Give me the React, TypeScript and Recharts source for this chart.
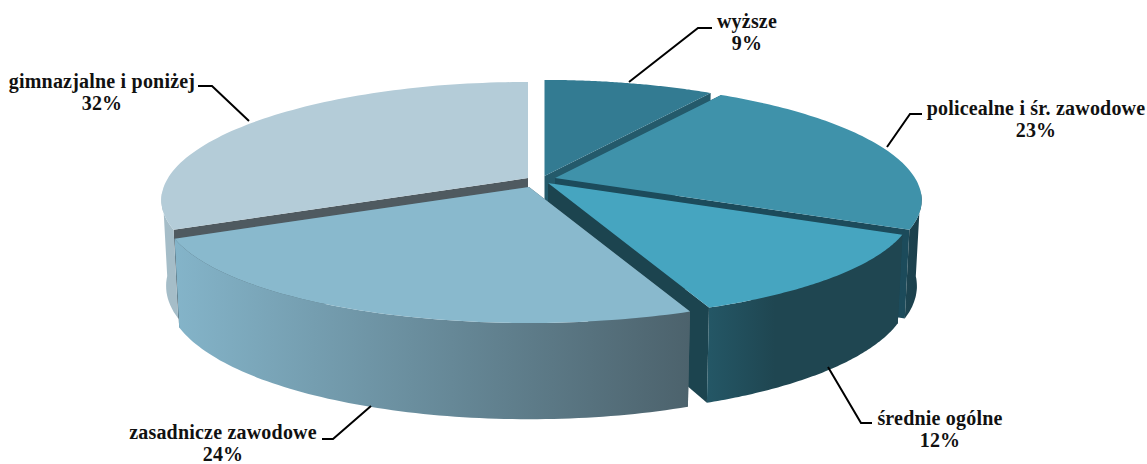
import { PieChart, Pie } from 'recharts';

const categories = ['gimnazjalne i poniżej', 'wyższe', 'policealne i śr. zawodowe', 'średnie ogólne', 'zasadnicze zawodowe'];
const shares = [32, 9, 23, 12, 24];

const tableData = categories.map((name, i) => ({ name, value: shares[i] }));

// look of each slice, same order as categories
const topColors = ['#b4ccd8', '#337b92', '#3f92aa', '#46a5c0', '#89b9cd'];
const faceColors = ['#4f5a60', '#245a6b', '#1c4b5b', '#1c444f', '#4c626c'];
const wallFrom = ['#a5bdc8', '#245a6b', '#1d4450', '#245766', '#84b4c9'];
const wallTo = ['#a5bdc8', '#245a6b', '#1b3f4b', '#1f4651', '#4c626c'];
const wallEnd = [1, 1, 1, 0.35, 1];
// how far each slice is pulled out of the pie, on screen
const shiftX = [-12, 4.5, 15, 8, -11];
const shiftY = [-2, -4, -2, 3, 7];

// [start of leader, elbow, end of leader, label x, first baseline]
const labelSpots: number[][] = [
  [249, 121, 212, 86, 198, 86, 102, 88],
  [629, 82, 698, 28, 712, 28, 747, 28],
  [887, 147, 910, 114, 922, 114, 1036, 115],
  [828, 367, 861, 423, 872, 423, 940, 425],
  [371, 406, 333, 439, 322, 439, 223, 439],
];

const TILT = 112.6 / 360;
const PERSPECTIVE_X = 0.19;
const PERSPECTIVE_Y = 0.172;
const DEPTH = 84;
const BOTTOM_SX = 0.987;
const BOTTOM_SY = 1.09;

function project(deg: number, r: number) {
  const a = (deg * Math.PI) / 180;
  const X = Math.cos(a);
  const Y = -Math.sin(a);
  return { x: (r * X) / (1 - PERSPECTIVE_X * Y), y: (r * TILT * Y) / (1 - PERSPECTIVE_Y * Y), front: Y > 0.1 };
}

function toPath(pts: number[][]) {
  return 'M' + pts.map((p) => p[0].toFixed(1) + ',' + p[1].toFixed(1)).join('L') + 'Z';
}

function Slice3D(props: any) {
  const { cx, cy, outerRadius, startAngle, endAngle } = props;
  const name = props.payload?.name ?? props.name;
  const i = categories.indexOf(name);
  const ox = cx + shiftX[i];
  const oy = cy + shiftY[i];

  const top = (p: { x: number; y: number }) => [ox + p.x, oy + p.y];
  const bottom = (p: { x: number; y: number }) => [ox + p.x * BOTTOM_SX, oy + DEPTH + p.y * BOTTOM_SY];

  const steps = 80;
  const arc = [];
  for (let s = 0; s <= steps; s++) {
    arc.push(project(startAngle + ((endAngle - startAngle) * s) / steps, outerRadius));
  }
  const first = arc[0];
  const last = arc[steps];
  const frontArc = arc.filter((p) => p.front);
  const apexTop = [ox, oy];
  const apexBottom = [ox, oy + DEPTH];
  const gradId = 'wall-' + i;

  return (
    <g>
      <defs>
        <linearGradient id={gradId} x1="0" y1="0" x2="1" y2="0">
          <stop offset="0%" stopColor={wallFrom[i]} />
          <stop offset={wallEnd[i] * 100 + '%'} stopColor={wallTo[i]} />
        </linearGradient>
      </defs>
      <path d={toPath([apexTop, top(first), bottom(first), apexBottom])} fill={faceColors[i]} />
      <path d={toPath([apexTop, top(last), bottom(last), apexBottom])} fill={faceColors[i]} />
      {frontArc.length > 1 && (
        <path d={toPath([...frontArc.map(top), ...frontArc.slice().reverse().map(bottom)])} fill={`url(#${gradId})`} />
      )}
      <path d={toPath([apexTop, ...arc.map(top)])} fill={topColors[i]} />
    </g>
  );
}

function renderLabel(props: any) {
  const i = categories.indexOf(props.payload?.name ?? props.name);
  const s = labelSpots[i];
  const style = { fontFamily: '"Liberation Serif"', fontWeight: 700, fontSize: 20, letterSpacing: 0.2, fill: '#111' };
  return (
    <g key={i}>
      <polyline points={`${s[0]},${s[1]} ${s[2]},${s[3]} ${s[4]},${s[5]}`} fill="none" stroke="#000" strokeWidth={2} />
      <text x={s[6]} y={s[7]} textAnchor="middle" style={style}>{categories[i]}</text>
      <text x={s[6]} y={s[7] + 22} textAnchor="middle" style={style}>{shares[i]}%</text>
    </g>
  );
}

export default function App() {
  return (
    <div style={{ position: 'fixed', left: 0, top: 0, width: 1147, height: 464, background: '#fff' }}>
      <PieChart width={1147} height={464} margin={{ top: 0, right: 0, bottom: 0, left: 0 }}>
        <Pie
          data={tableData}
          dataKey="value"
          nameKey="name"
          cx={540}
          cy={180}
          innerRadius={0}
          outerRadius={360}
          startAngle={205.2}
          endAngle={-154.8}
          paddingAngle={0}
          isAnimationActive={false}
          shape={Slice3D}
          label={renderLabel}
          labelLine={false}
        />
      </PieChart>
    </div>
  );
}
